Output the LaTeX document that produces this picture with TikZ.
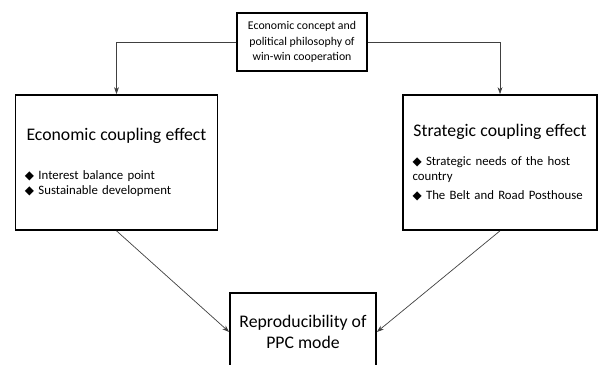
\documentclass[tikz,border=0pt]{standalone}
\usepackage{fontspec}
\setmainfont{Carlito}
\newfontfamily\symfont{DejaVu Sans}
\usetikzlibrary{arrows.meta,positioning}
\tikzset
{
    box/.style     = {rectangle, draw=black, line width=1.2pt, align=center, inner sep=2pt},
    topbox/.style  = {box, minimum width=130*0.025cm, minimum height=58*0.025cm, font=\fontsize{8.4}{10.8}\selectfont},
    sidebox/.style = {box, minimum height=135*0.025cm, text width=#1, align=left, inner xsep=0.24cm, font=\fontsize{9.1}{10.8}\selectfont},
    ppcbox/.style  = {box, minimum width=146*0.025cm, minimum height=78*0.025cm, font=\fontsize{12.6}{15}\selectfont},
    arrow/.style   = {-{Stealth[length=5pt,width=3.5pt]}, line width=0.5pt, color=black!75}
}
\newcommand\bul{{\symfont\fontsize{8.5}{8.5}\selectfont ◆}\ }
\newcommand\boxtitle{\fontsize{12.6}{14}\selectfont}
\begin{document}
\begin{tikzpicture}[x=0.025cm, y=-0.025cm]
\useasboundingbox (0,0) rectangle (603,365);
\node(wincoop) [topbox] at (302,42) {Economic concept and\\political philosophy of\\win-win cooperation};
\node(econ) [sidebox=4.575cm] at (116.5,162.5) {{\centering\boxtitle Economic coupling effect\par}\vspace{17pt}\bul Interest balance point\\\bul Sustainable development};
\node(strat) [sidebox=4.37cm] at (500,162.5) {{\centering\boxtitle Strategic coupling effect\par}\vspace{10pt}\bul Strategic needs of the host\\country\\[2.5pt]\bul The Belt and Road Posthouse};
\node(ppc) [ppcbox] at (303,332) {Reproducibility of\\PPC mode};
\draw[arrow] (wincoop.west) -| (econ.north);
\draw[arrow] (wincoop.east) -| (strat.north);
\draw[arrow] (econ.south) -- (ppc.west);
\draw[arrow] (strat.south) -- (ppc.east);
\end{tikzpicture}
\end{document}
